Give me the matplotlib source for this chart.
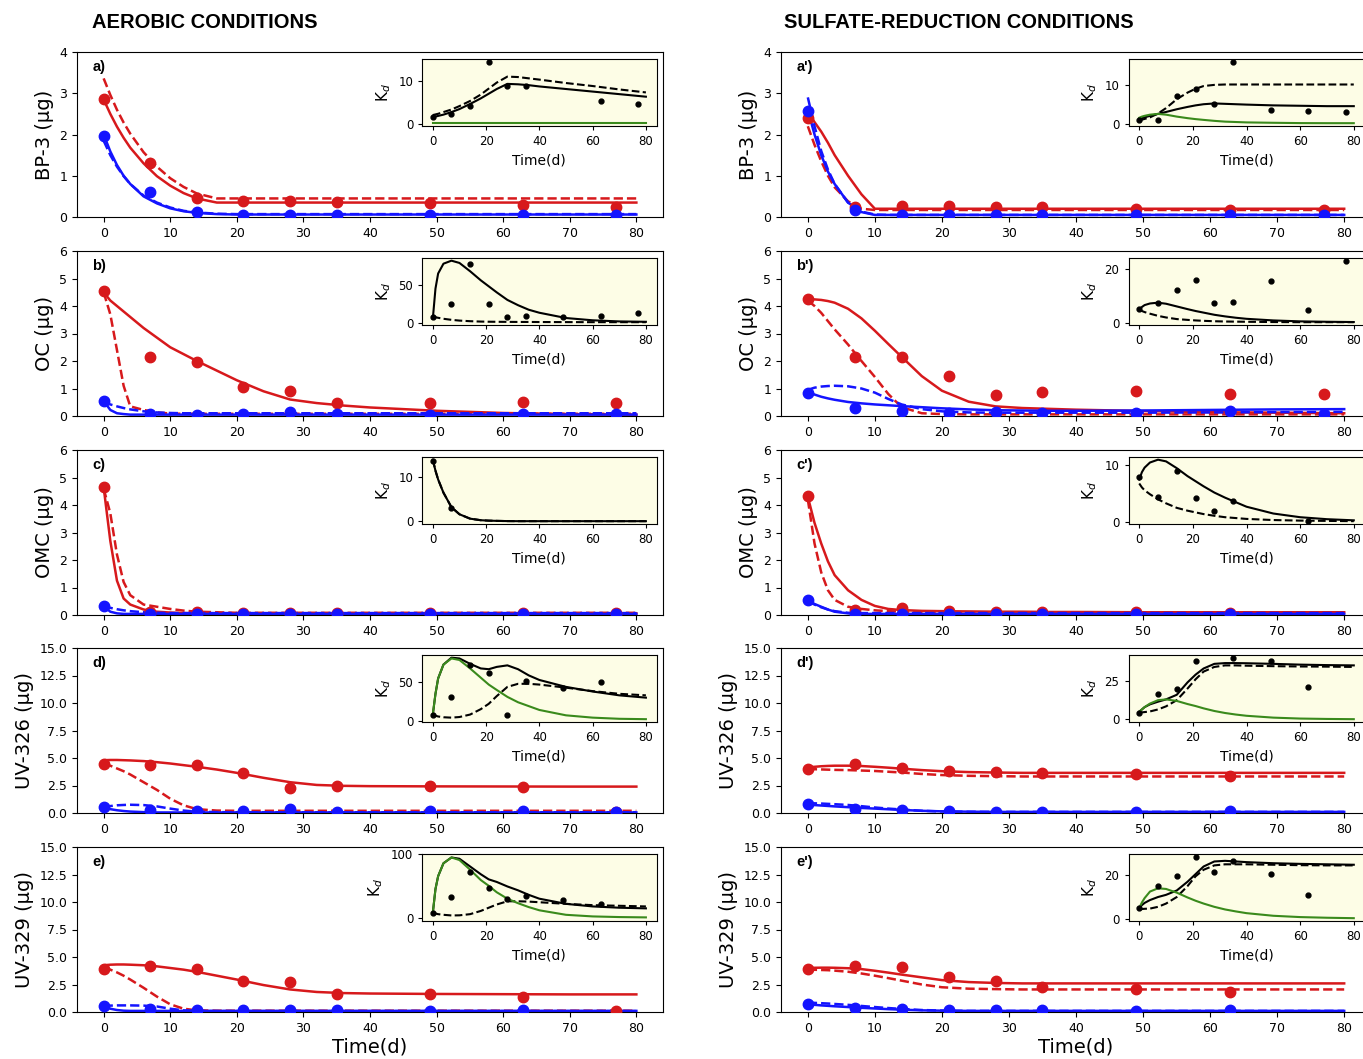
import numpy as np
import matplotlib
matplotlib.use("Agg")
import matplotlib.pyplot as plt

# sampling days
t_obs = [0, 7, 14, 21, 28, 35, 49, 63, 77]
t_fit = [0, 1, 2, 3, 4, 6, 8, 10, 12, 14, 17, 20, 24, 28, 32, 36, 40, 50, 60, 70, 80]
t_kd = [0, 1, 2, 4, 7, 10, 14, 18, 21, 24, 28, 32, 36, 40, 50, 60, 70, 80]

compounds = ["BP-3", "OC", "OMC", "UV-326", "UV-329"]
ylims = [4, 6, 6, 15, 15]
labels_aer = ["a)", "b)", "c)", "d)", "e)"]
labels_sr = ["a')", "b')", "c')", "d')", "e')"]

# ---------------- aerobic: measured (red / blue dots) ----------------
bp3_aer_red = [2.85, 1.32, 0.45, 0.40, 0.38, 0.36, 0.33, 0.28, 0.25]
bp3_aer_blue = [1.96, 0.60, 0.12, 0.06, 0.06, 0.06, 0.04, 0.06, 0.04]
oc_aer_red = [4.53, 2.15, 1.97, 1.05, 0.90, 0.48, 0.48, 0.52, 0.48]
oc_aer_blue = [0.55, 0.08, 0.05, 0.08, 0.13, 0.08, 0.05, 0.08, 0.06]
omc_aer_red = [4.67, 0.12, 0.12, 0.07, 0.07, 0.06, 0.06, 0.06, 0.06]
omc_aer_blue = [0.33, 0.03, 0.03, 0.03, 0.03, 0.03, 0.03, 0.03, 0.03]
uv326_aer_red = [4.45, 4.35, 4.35, 3.60, 2.25, 2.50, 2.50, 2.40, 0.10]
uv326_aer_blue = [0.55, 0.30, 0.15, 0.15, 0.40, 0.10, 0.20, 0.15, 0.10]
uv329_aer_red = [3.90, 4.15, 3.90, 2.85, 2.75, 1.65, 1.60, 1.35, 0.10]
uv329_aer_blue = [0.55, 0.25, 0.15, 0.15, 0.15, 0.15, 0.12, 0.20, None]

# ---------------- sulfate-reduction: measured ----------------
bp3_sr_red = [2.40, 0.25, 0.27, 0.27, 0.25, 0.25, 0.20, 0.17, 0.17]
bp3_sr_blue = [2.57, 0.18, 0.05, 0.06, 0.05, 0.05, 0.04, 0.04, 0.04]
oc_sr_red = [4.25, 2.15, 2.15, 1.45, 0.77, 0.87, 0.90, 0.80, 0.80]
oc_sr_blue = [0.83, 0.30, 0.17, 0.12, 0.13, 0.12, 0.10, 0.20, 0.08]
omc_sr_red = [4.32, 0.20, 0.27, 0.13, 0.10, 0.10, 0.10, 0.07, None]
omc_sr_blue = [0.55, 0.04, 0.03, 0.03, 0.03, 0.03, 0.03, 0.03, None]
uv326_sr_red = [4.00, 4.45, 4.10, 3.85, 3.70, 3.65, 3.55, 3.35, None]
uv326_sr_blue = [0.80, 0.35, 0.25, 0.15, 0.10, 0.10, 0.10, 0.20, None]
uv329_sr_red = [3.90, 4.15, 4.05, 3.15, 2.85, 2.30, 2.05, 1.80, None]
uv329_sr_blue = [0.70, 0.35, 0.25, 0.15, 0.20, 0.15, 0.12, 0.20, None]

# ---------------- aerobic: model curves on t_fit ----------------
# order: red solid, red dashed, blue solid, blue dashed
bp3_aer_fit = [
    [2.85, 2.50, 2.19, 1.92, 1.68, 1.30, 0.99, 0.76, 0.58, 0.45, 0.35, 0.35, 0.35, 0.35, 0.35, 0.35, 0.35, 0.35, 0.35, 0.35, 0.35],
    [3.36, 2.96, 2.60, 2.29, 2.02, 1.57, 1.22, 0.94, 0.73, 0.57, 0.45, 0.45, 0.45, 0.45, 0.45, 0.45, 0.45, 0.45, 0.45, 0.45, 0.45],
    [2.00, 1.59, 1.26, 1.00, 0.80, 0.50, 0.33, 0.21, 0.14, 0.10, 0.07, 0.06, 0.06, 0.06, 0.06, 0.06, 0.06, 0.06, 0.06, 0.06, 0.06],
    [1.85, 1.50, 1.22, 0.99, 0.80, 0.52, 0.35, 0.23, 0.15, 0.11, 0.08, 0.07, 0.07, 0.07, 0.07, 0.07, 0.07, 0.07, 0.07, 0.07, 0.07],
]
oc_aer_fit = [
    [4.50, 4.20, 4.00, 3.80, 3.60, 3.20, 2.85, 2.50, 2.25, 2.00, 1.65, 1.30, 0.90, 0.60, 0.47, 0.38, 0.31, 0.19, 0.11, 0.07, 0.05],
    [4.50, 3.70, 2.40, 1.10, 0.35, 0.22, 0.13, 0.09, 0.08, 0.08, 0.08, 0.08, 0.08, 0.08, 0.08, 0.08, 0.08, 0.08, 0.08, 0.08, 0.08],
    [0.55, 0.22, 0.10, 0.07, 0.05, 0.05, 0.05, 0.05, 0.05, 0.05, 0.05, 0.05, 0.05, 0.05, 0.05, 0.05, 0.05, 0.05, 0.05, 0.05, 0.05],
    [0.50, 0.42, 0.35, 0.29, 0.24, 0.17, 0.13, 0.11, 0.10, 0.10, 0.10, 0.10, 0.10, 0.10, 0.10, 0.10, 0.10, 0.10, 0.10, 0.10, 0.10],
]
omc_aer_fit = [
    [4.65, 2.70, 1.25, 0.60, 0.38, 0.20, 0.12, 0.09, 0.07, 0.06, 0.06, 0.06, 0.06, 0.06, 0.06, 0.06, 0.06, 0.06, 0.06, 0.06, 0.06],
    [4.60, 3.70, 2.20, 1.20, 0.72, 0.38, 0.30, 0.22, 0.16, 0.12, 0.10, 0.08, 0.08, 0.08, 0.08, 0.08, 0.08, 0.08, 0.08, 0.08, 0.08],
    [0.33, 0.12, 0.06, 0.04, 0.04, 0.04, 0.04, 0.04, 0.04, 0.04, 0.04, 0.04, 0.04, 0.04, 0.04, 0.04, 0.04, 0.04, 0.04, 0.04, 0.04],
    [0.30, 0.26, 0.21, 0.17, 0.14, 0.10, 0.08, 0.07, 0.07, 0.07, 0.07, 0.07, 0.07, 0.07, 0.07, 0.07, 0.07, 0.07, 0.07, 0.07, 0.07],
]
uv326_aer_fit = [
    [4.80, 4.82, 4.82, 4.80, 4.78, 4.72, 4.62, 4.50, 4.35, 4.20, 3.95, 3.65, 3.20, 2.80, 2.55, 2.47, 2.44, 2.42, 2.41, 2.40, 2.40],
    [4.50, 4.30, 4.05, 3.80, 3.50, 2.80, 2.10, 1.30, 0.70, 0.35, 0.22, 0.20, 0.20, 0.20, 0.20, 0.20, 0.20, 0.20, 0.20, 0.20, 0.20],
    [0.50, 0.35, 0.25, 0.18, 0.13, 0.08, 0.05, 0.05, 0.05, 0.05, 0.05, 0.05, 0.05, 0.05, 0.05, 0.05, 0.05, 0.05, 0.05, 0.05, 0.05],
    [0.55, 0.63, 0.70, 0.73, 0.75, 0.72, 0.60, 0.40, 0.22, 0.12, 0.08, 0.07, 0.07, 0.07, 0.07, 0.07, 0.07, 0.07, 0.07, 0.07, 0.07],
]
uv329_aer_fit = [
    [4.25, 4.30, 4.32, 4.32, 4.30, 4.25, 4.15, 4.00, 3.85, 3.65, 3.30, 2.95, 2.45, 2.05, 1.82, 1.72, 1.68, 1.64, 1.62, 1.60, 1.60],
    [4.00, 3.85, 3.60, 3.30, 2.95, 2.20, 1.40, 0.70, 0.30, 0.15, 0.12, 0.12, 0.12, 0.12, 0.12, 0.12, 0.12, 0.12, 0.12, 0.12, 0.12],
    [0.50, 0.30, 0.18, 0.12, 0.10, 0.10, 0.10, 0.10, 0.10, 0.10, 0.10, 0.10, 0.10, 0.10, 0.10, 0.10, 0.10, 0.10, 0.10, 0.10, 0.10],
    [0.55, 0.58, 0.60, 0.60, 0.60, 0.58, 0.50, 0.30, 0.15, 0.10, 0.08, 0.08, 0.08, 0.08, 0.08, 0.08, 0.08, 0.08, 0.08, 0.08, 0.08],
]

# ---------------- sulfate-reduction: model curves on t_fit ----------------
bp3_sr_fit = [
    [2.55, 2.30, 2.07, 1.80, 1.50, 1.00, 0.55, 0.20, 0.20, 0.20, 0.20, 0.20, 0.20, 0.20, 0.20, 0.20, 0.20, 0.20, 0.20, 0.20, 0.20],
    [2.20, 1.75, 1.35, 1.00, 0.72, 0.38, 0.20, 0.17, 0.17, 0.17, 0.17, 0.17, 0.17, 0.17, 0.17, 0.17, 0.17, 0.17, 0.17, 0.17, 0.17],
    [2.60, 2.00, 1.50, 1.10, 0.80, 0.35, 0.12, 0.05, 0.05, 0.05, 0.05, 0.05, 0.05, 0.05, 0.05, 0.05, 0.05, 0.05, 0.05, 0.05, 0.05],
    [2.90, 2.20, 1.60, 1.15, 0.80, 0.35, 0.13, 0.06, 0.05, 0.05, 0.05, 0.05, 0.05, 0.05, 0.05, 0.05, 0.05, 0.05, 0.05, 0.05, 0.05],
]
oc_sr_fit = [
    [4.25, 4.24, 4.22, 4.18, 4.12, 3.90, 3.55, 3.10, 2.62, 2.15, 1.45, 0.92, 0.52, 0.35, 0.29, 0.26, 0.23, 0.18, 0.14, 0.12, 0.10],
    [4.20, 4.00, 3.75, 3.45, 3.15, 2.60, 2.00, 1.42, 0.80, 0.32, 0.10, 0.07, 0.06, 0.06, 0.06, 0.06, 0.06, 0.06, 0.06, 0.06, 0.06],
    [0.88, 0.78, 0.70, 0.64, 0.59, 0.51, 0.46, 0.42, 0.39, 0.36, 0.32, 0.28, 0.24, 0.21, 0.20, 0.19, 0.19, 0.20, 0.22, 0.24, 0.25],
    [0.95, 1.03, 1.07, 1.09, 1.10, 1.08, 1.00, 0.85, 0.62, 0.42, 0.25, 0.17, 0.13, 0.12, 0.12, 0.12, 0.12, 0.12, 0.13, 0.14, 0.15],
]
omc_sr_fit = [
    [4.30, 3.35, 2.60, 1.95, 1.45, 0.90, 0.55, 0.33, 0.22, 0.18, 0.15, 0.14, 0.13, 0.12, 0.12, 0.11, 0.11, 0.10, 0.10, 0.10, 0.10],
    [4.20, 2.60, 1.55, 0.90, 0.55, 0.30, 0.22, 0.17, 0.14, 0.12, 0.10, 0.10, 0.10, 0.10, 0.10, 0.09, 0.09, 0.09, 0.08, 0.08, 0.08],
    [0.55, 0.40, 0.30, 0.20, 0.12, 0.06, 0.04, 0.04, 0.04, 0.04, 0.04, 0.04, 0.04, 0.04, 0.04, 0.04, 0.04, 0.04, 0.04, 0.04, 0.04],
    [0.50, 0.38, 0.28, 0.20, 0.14, 0.08, 0.07, 0.07, 0.07, 0.07, 0.07, 0.07, 0.07, 0.07, 0.07, 0.07, 0.07, 0.07, 0.07, 0.07, 0.07],
]
uv326_sr_fit = [
    [4.15, 4.20, 4.25, 4.28, 4.30, 4.30, 4.27, 4.20, 4.12, 4.03, 3.90, 3.80, 3.72, 3.68, 3.65, 3.65, 3.65, 3.65, 3.65, 3.65, 3.65],
    [4.00, 3.98, 3.96, 3.94, 3.92, 3.90, 3.86, 3.82, 3.75, 3.68, 3.55, 3.45, 3.38, 3.35, 3.32, 3.32, 3.32, 3.32, 3.32, 3.32, 3.32],
    [0.75, 0.72, 0.68, 0.64, 0.60, 0.53, 0.46, 0.40, 0.34, 0.28, 0.20, 0.15, 0.12, 0.10, 0.10, 0.10, 0.10, 0.10, 0.10, 0.10, 0.10],
    [0.90, 0.88, 0.86, 0.83, 0.80, 0.73, 0.62, 0.50, 0.40, 0.32, 0.20, 0.14, 0.11, 0.10, 0.10, 0.10, 0.10, 0.10, 0.10, 0.10, 0.10],
]
uv329_sr_fit = [
    [4.00, 4.02, 4.03, 4.03, 4.02, 3.98, 3.90, 3.75, 3.58, 3.40, 3.15, 2.90, 2.72, 2.64, 2.60, 2.60, 2.60, 2.60, 2.60, 2.60, 2.60],
    [3.85, 3.84, 3.82, 3.80, 3.76, 3.66, 3.50, 3.30, 3.08, 2.85, 2.50, 2.25, 2.12, 2.08, 2.05, 2.05, 2.05, 2.05, 2.05, 2.05, 2.05],
    [0.70, 0.65, 0.60, 0.56, 0.52, 0.45, 0.38, 0.32, 0.26, 0.21, 0.15, 0.12, 0.10, 0.10, 0.10, 0.10, 0.10, 0.10, 0.10, 0.10, 0.10],
    [0.85, 0.83, 0.80, 0.77, 0.73, 0.65, 0.55, 0.45, 0.36, 0.28, 0.18, 0.13, 0.10, 0.10, 0.10, 0.10, 0.10, 0.10, 0.10, 0.10, 0.10],
]

# ---------------- Kd insets: measured dots on t_obs ----------------
bp3_aer_kd = [1.5, 2.3, 4.1, 14.5, 8.9, 8.9, None, 5.3, 4.6]
oc_aer_kd = [8, 24, 78, 24, 7, 9, 8, 9, 12]
omc_aer_kd = [13.8, 3.1, None, None, None, None, None, None, None]
uv326_aer_kd = [8, 31, 72, 62, 7, 52, 43, 50, None]
uv329_aer_kd = [7.5, 33, 71, 46, 29, 34, 28, 22, None]
bp3_sr_kd = [1.0, 1.0, 7.1, 9.0, 5.1, 16.0, 3.5, 3.2, 3.0]
oc_sr_kd = [5, 7.2, 12, 16, 7.2, 7.8, 15.5, 4.5, 23]
omc_sr_kd = [8.0, 4.4, 9.0, 4.3, 2.0, 3.7, None, 0.2, None]
uv326_sr_kd = [4.5, 16.5, 20, 38, None, 40, 38, 21, None]
uv329_sr_kd = [5, 15, 19.5, 28.5, 21.5, 26.5, 20.5, 11, None]

# ---------------- Kd insets: model curves on t_kd ----------------
# order: black solid, black dashed, green (None = not drawn)
bp3_aer_kdfit = [
    [1.5, 1.65, 1.8, 2.1, 2.7, 3.4, 4.6, 5.9, 7.0, 8.1, 9.3, 9.2, 9.0, 8.7, 8.1, 7.5, 6.9, 6.3],
    [2.0, 2.15, 2.3, 2.7, 3.3, 4.1, 5.3, 6.8, 8.2, 9.6, 11.0, 10.9, 10.6, 10.3, 9.5, 8.8, 8.0, 7.3],
    [0.1, 0.1, 0.1, 0.1, 0.1, 0.1, 0.1, 0.1, 0.1, 0.1, 0.1, 0.1, 0.1, 0.1, 0.1, 0.1, 0.1, 0.1],
]
oc_aer_kdfit = [
    [5, 45, 65, 78, 82, 79, 68, 56, 48, 40, 30, 23, 17, 13, 6, 3, 1.5, 1],
    [8, 7, 6.3, 5, 3.6, 2.6, 1.8, 1.3, 1.1, 1.0, 0.9, 0.8, 0.8, 0.7, 0.6, 0.5, 0.5, 0.5],
    None,
]
omc_aer_kdfit = [
    [14, 11.5, 9.5, 6.5, 3.2, 1.6, 0.6, 0.25, 0.15, 0.1, 0.05, 0.03, 0.03, 0.03, 0.03, 0.03, 0.03, 0.03],
    [14, 11.5, 9.5, 6.5, 3.2, 1.6, 0.6, 0.25, 0.15, 0.1, 0.05, 0.03, 0.03, 0.03, 0.03, 0.03, 0.03, 0.03],
    None,
]
uv326_aer_kdfit = [
    [8, 35, 55, 73, 82, 81, 74, 68, 67, 70, 72, 67, 59, 53, 44, 38, 33, 30],
    [8, 6.5, 5.5, 4.5, 4, 4.8, 8, 15, 22, 32, 44, 48, 48, 47, 43, 38.5, 35, 33],
    [8, 35, 55, 73, 81, 79, 68, 56, 47, 40, 31, 24, 19, 14, 7, 4, 2.5, 2],
]
uv329_aer_kdfit = [
    [8, 45, 65, 85, 94, 92, 80, 68, 60, 56, 49, 43, 36, 30, 22, 18, 16, 15],
    [8, 7, 6, 5, 4, 4.2, 6, 11, 16, 21, 26, 26, 25.5, 24.5, 22, 20, 19, 18],
    [8, 45, 65, 85, 94, 90, 75, 59, 50, 40, 30, 23, 17, 12, 5, 2.5, 1.5, 1],
]
bp3_sr_kdfit = [
    [1.2, 1.4, 1.6, 2.0, 2.5, 3.0, 3.7, 4.3, 4.7, 5.0, 5.2, 5.1, 5.0, 4.9, 4.7, 4.6, 4.5, 4.5],
    [0.8, 1.0, 1.2, 1.6, 2.6, 4.0, 6.3, 8.0, 9.0, 9.7, 10.0, 10.1, 10.1, 10.1, 10.1, 10.1, 10.1, 10.1],
    [1.5, 1.8, 2.0, 2.3, 2.5, 2.3, 1.8, 1.4, 1.15, 0.95, 0.7, 0.5, 0.4, 0.3, 0.2, 0.12, 0.1, 0.1],
]
oc_sr_kdfit = [
    [5, 5.8, 6.5, 7.1, 7.4, 7.0, 6.0, 5.0, 4.3, 3.7, 2.9, 2.3, 1.8, 1.4, 0.8, 0.45, 0.3, 0.2],
    [4.8, 4.3, 3.9, 3.3, 2.5, 1.9, 1.3, 1.0, 0.8, 0.65, 0.5, 0.4, 0.35, 0.3, 0.2, 0.15, 0.15, 0.15],
    None,
]
omc_sr_kdfit = [
    [7.5, 8.8, 9.6, 10.5, 11.0, 10.7, 9.5, 8.1, 7.2, 6.3, 5.2, 4.3, 3.5, 2.7, 1.5, 0.85, 0.5, 0.3],
    [6.8, 6.1, 5.6, 4.9, 4.0, 3.3, 2.5, 2.0, 1.7, 1.4, 1.1, 0.85, 0.7, 0.55, 0.35, 0.25, 0.2, 0.15],
    None,
]
uv326_sr_kdfit = [
    [5, 6.5, 8, 9.8, 11.5, 13, 16, 24, 29, 33, 36, 36.5, 36.5, 36.4, 36, 35.5, 35.2, 35],
    [4.5, 4.6, 4.8, 5.2, 6.5, 8.5, 12.5, 20, 26, 31, 34, 35, 35, 34.8, 34.5, 34.3, 34.2, 34],
    [5, 6.5, 8, 10.3, 12.5, 13, 12, 10, 8.7, 7.2, 5.5, 4.2, 3.2, 2.4, 1.2, 0.6, 0.35, 0.2],
]
uv329_sr_kdfit = [
    [5, 6.3, 7.3, 8.6, 10, 11, 13, 17, 20.5, 24, 26.3, 26.6, 26.3, 26, 25.5, 25.2, 25, 24.8],
    [4.5, 4.5, 4.6, 4.7, 5.5, 7, 10, 15, 19.5, 22.5, 24.5, 25, 25, 25, 24.8, 24.6, 24.5, 24.5],
    [5, 7.5, 9.5, 12.5, 14, 13.7, 12, 9.8, 8.3, 7, 5.5, 4.3, 3.4, 2.6, 1.4, 0.8, 0.5, 0.3],
]

aer = [
    (bp3_aer_red, bp3_aer_blue, bp3_aer_fit, bp3_aer_kd, bp3_aer_kdfit),
    (oc_aer_red, oc_aer_blue, oc_aer_fit, oc_aer_kd, oc_aer_kdfit),
    (omc_aer_red, omc_aer_blue, omc_aer_fit, omc_aer_kd, omc_aer_kdfit),
    (uv326_aer_red, uv326_aer_blue, uv326_aer_fit, uv326_aer_kd, uv326_aer_kdfit),
    (uv329_aer_red, uv329_aer_blue, uv329_aer_fit, uv329_aer_kd, uv329_aer_kdfit),
]
sr = [
    (bp3_sr_red, bp3_sr_blue, bp3_sr_fit, bp3_sr_kd, bp3_sr_kdfit),
    (oc_sr_red, oc_sr_blue, oc_sr_fit, oc_sr_kd, oc_sr_kdfit),
    (omc_sr_red, omc_sr_blue, omc_sr_fit, omc_sr_kd, omc_sr_kdfit),
    (uv326_sr_red, uv326_sr_blue, uv326_sr_fit, uv326_sr_kd, uv326_sr_kdfit),
    (uv329_sr_red, uv329_sr_blue, uv329_sr_fit, uv329_sr_kd, uv329_sr_kdfit),
]

RED = "#d7191c"
BLUE = "#1414ff"
GREEN = "#3a8a1c"
INSET_BG = "#fdfde6"

W, H = 1363, 1059
fig = plt.figure(figsize=(W / 100, H / 100), dpi=100)

col_left = [77, 781]
col_width = [586, 590]
row_top = [52, 251, 450, 648, 847]
ax_h = 165


def as_arr(v):
    return np.array(v, dtype=float)


def draw_panel(ax, data, row, label):
    red, blue, fit, kd, kdfit = data
    ax.plot(t_fit, fit[0], color=RED, lw=1.8)
    ax.plot(t_fit, fit[1], color=RED, lw=1.8, ls="--")
    ax.plot(t_fit, fit[2], color=BLUE, lw=1.8)
    ax.plot(t_fit, fit[3], color=BLUE, lw=1.8, ls="--")
    ax.plot(t_obs, as_arr(red), "o", color=RED, ms=7.5, zorder=3)
    ax.plot(t_obs, as_arr(blue), "o", color=BLUE, ms=7.5, zorder=3)
    ax.set_xlim(-4, 84)
    ax.set_ylim(0, ylims[row])
    ax.set_xticks(range(0, 81, 10))
    if ylims[row] == 15:
        ax.set_yticks([0, 2.5, 5, 7.5, 10, 12.5, 15])
        ax.yaxis.set_major_formatter(matplotlib.ticker.FormatStrFormatter("%.1f"))
    else:
        ax.set_yticks(range(0, ylims[row] + 1))
    ax.tick_params(labelsize=9)
    ax.set_ylabel(compounds[row] + " (\u03bcg)", fontsize=14)
    ax.text(0.026, 0.91, label, transform=ax.transAxes, fontsize=10.5,
            fontweight="bold", family="Liberation Sans", va="center")

    ins = ax.inset_axes([0.589, 0.55, 0.40, 0.41])
    ins.set_facecolor(INSET_BG)
    ins.plot(t_kd, kdfit[0], color="black", lw=1.5)
    ins.plot(t_kd, kdfit[1], color="black", lw=1.5, ls="--")
    if kdfit[2] is not None:
        ins.plot(t_kd, kdfit[2], color=GREEN, lw=1.5)
    ins.plot(t_obs, as_arr(kd), "o", color="black", ms=3.5, zorder=3)
    ins.set_xlim(-4, 84)
    ins.set_xticks(range(0, 81, 20))
    ins.tick_params(labelsize=8.5, length=3)
    ins.set_xlabel("Time(d)", fontsize=10)
    ins.set_ylabel("K$_d$", fontsize=11)
    return ins


for c, (col, labels) in enumerate([(aer, labels_aer), (sr, labels_sr)]):
    for r in range(5):
        rect = [col_left[c] / W, 1 - (row_top[r] + ax_h) / H, col_width[c] / W, ax_h / H]
        ax = fig.add_axes(rect)
        ins = draw_panel(ax, col[r], r, labels[r])
        if c == 1:
            ins.set_position([0.589 * 586 / 590, 0.55, 0.40 * 586 / 590, 0.41])
        if r == 4 and c == 0:
            ins.set_ylim(-5, 100)
        if r == 4:
            ax.set_xlabel("Time(d)", fontsize=14, labelpad=2)

fig.text(92 / W, 1 - 22 / H, "AEROBIC CONDITIONS", fontsize=14.5, fontweight="bold",
         family="Liberation Sans", va="center", ha="left")
fig.text(784 / W, 1 - 22 / H, "SULFATE-REDUCTION CONDITIONS", fontsize=14.5,
         fontweight="bold", family="Liberation Sans", va="center", ha="left")

fig.savefig("out.png", dpi=100)
